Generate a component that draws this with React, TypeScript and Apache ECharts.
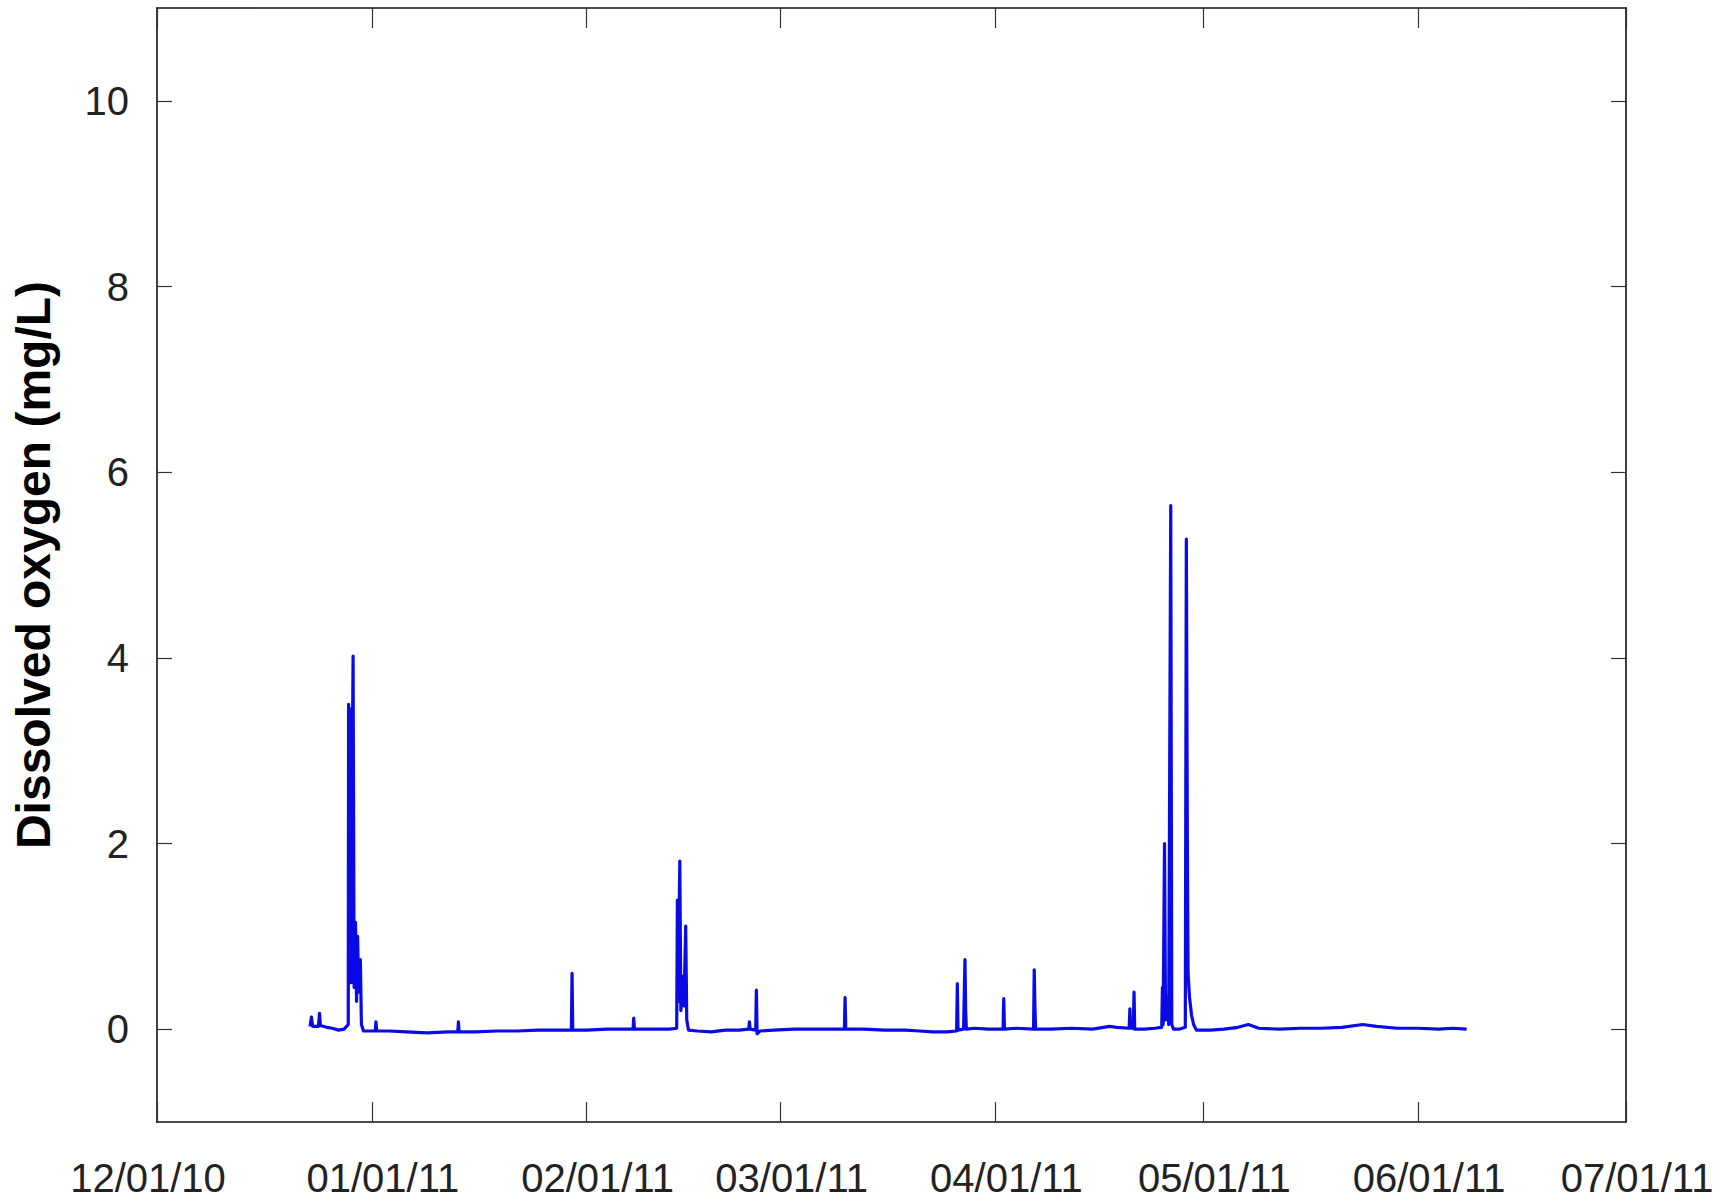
import React, { useEffect, useRef } from "react";
import * as echarts from "echarts";

// Sample times (local time) and dissolved oxygen readings (mg/L)
const sampleTimes: string[] = [
  "2010-12-23 02:00", "2010-12-23 07:00", "2010-12-23 11:00",
  "2010-12-24 07:00", "2010-12-24 11:00", "2010-12-24 14:00",
  "2010-12-25 12:00", "2010-12-26 07:00", "2010-12-27 05:00", "2010-12-28 00:00",
  "2010-12-28 14:24", "2010-12-28 15:36", "2010-12-28 18:00", "2010-12-28 20:24",
  "2010-12-29 00:00", "2010-12-29 03:36", "2010-12-29 07:12", "2010-12-29 10:48",
  "2010-12-29 15:36", "2010-12-29 19:12", "2010-12-29 22:48", "2010-12-30 02:24",
  "2010-12-30 08:24", "2010-12-30 12:00", "2010-12-30 19:12",
  "2010-12-31 12:00", "2011-01-01 12:00", "2011-01-01 14:24", "2011-01-01 17:00",
  "2011-01-03 12:00", "2011-01-06 00:00", "2011-01-09 00:00", "2011-01-12 00:00",
  "2011-01-13 09:36", "2011-01-13 12:00", "2011-01-13 14:24",
  "2011-01-16 00:00", "2011-01-19 00:00", "2011-01-22 00:00", "2011-01-25 00:00",
  "2011-01-28 00:00", "2011-01-29 19:12", "2011-01-29 21:36", "2011-01-30 00:00",
  "2011-02-01 00:00", "2011-02-04 00:00", "2011-02-07 16:48", "2011-02-07 19:12",
  "2011-02-07 21:36", "2011-02-10 00:00", "2011-02-13 00:00",
  "2011-02-14 00:00", "2011-02-14 02:24", "2011-02-14 04:48", "2011-02-14 10:48",
  "2011-02-14 14:24", "2011-02-14 21:36", "2011-02-15 01:12", "2011-02-15 07:12",
  "2011-02-15 10:48", "2011-02-15 16:48",
  "2011-02-17 00:00", "2011-02-19 00:00", "2011-02-21 00:00", "2011-02-23 00:00",
  "2011-02-24 09:36", "2011-02-24 12:00", "2011-02-24 14:24",
  "2011-02-25 09:36", "2011-02-25 12:00", "2011-02-25 14:24", "2011-02-26 00:00",
  "2011-02-28 00:00", "2011-03-03 00:00", "2011-03-06 00:00", "2011-03-09 00:00",
  "2011-03-10 04:48", "2011-03-10 07:12", "2011-03-10 09:36",
  "2011-03-13 00:00", "2011-03-16 00:00", "2011-03-19 00:00", "2011-03-21 00:00",
  "2011-03-23 00:00", "2011-03-25 00:00",
  "2011-03-26 09:36", "2011-03-26 12:00", "2011-03-26 14:24",
  "2011-03-27 09:36", "2011-03-27 14:24", "2011-03-27 16:48", "2011-03-27 19:12",
  "2011-03-29 00:00", "2011-03-31 00:00",
  "2011-04-02 02:24", "2011-04-02 04:48", "2011-04-02 07:12", "2011-04-04 00:00",
  "2011-04-06 12:00", "2011-04-06 14:24", "2011-04-06 16:48", "2011-04-06 19:12",
  "2011-04-09 00:00", "2011-04-12 00:00", "2011-04-15 00:00",
  "2011-04-17 12:00", "2011-04-18 12:00",
  "2011-04-20 07:12", "2011-04-20 09:36", "2011-04-20 12:00",
  "2011-04-20 21:36", "2011-04-21 00:00", "2011-04-21 02:24",
  "2011-04-22 12:00", "2011-04-24 00:00",
  "2011-04-25 00:00", "2011-04-25 02:24", "2011-04-25 04:48", "2011-04-25 09:36",
  "2011-04-25 13:12", "2011-04-25 19:12", "2011-04-26 00:00", "2011-04-26 07:12",
  "2011-04-26 10:48", "2011-04-26 16:48", "2011-04-27 12:00",
  "2011-04-28 09:36", "2011-04-28 13:12", "2011-04-28 16:48", "2011-04-28 19:12",
  "2011-04-29 00:00", "2011-04-29 07:12", "2011-04-29 14:24", "2011-04-30 00:00",
  "2011-05-02 00:00", "2011-05-04 00:00", "2011-05-06 00:00", "2011-05-07 12:00",
  "2011-05-09 00:00", "2011-05-12 00:00", "2011-05-15 00:00", "2011-05-18 00:00",
  "2011-05-21 00:00", "2011-05-24 00:00", "2011-05-26 00:00", "2011-05-29 00:00",
  "2011-06-01 00:00", "2011-06-04 00:00", "2011-06-06 00:00", "2011-06-08 00:00",
];

const dissolvedOxygen: number[] = [
  0.03, 0.13, 0.03,
  0.03, 0.17, 0.04,
  0.02, 0.01, -0.01, 0.0,
  0.05, 3.5, 0.6, 3.45,
  0.5, 2.6, 4.02, 0.45,
  1.15, 0.3, 1.0, 0.4,
  0.75, 0.05, -0.02,
  -0.02, -0.02, 0.08, -0.02,
  -0.02, -0.03, -0.04, -0.03,
  -0.03, 0.08, -0.03,
  -0.03, -0.02, -0.02, -0.01,
  -0.01, -0.01, 0.6, -0.01,
  -0.01, 0.0, 0.0, 0.12,
  0.0, 0.0, 0.0,
  0.01, 1.39, 0.3, 1.81,
  0.2, 0.57, 0.25, 1.11,
  0.1, -0.01,
  -0.02, -0.03, -0.01, -0.01,
  0.0, 0.08, 0.0,
  -0.01, 0.42, -0.05, -0.02,
  -0.01, 0.0, 0.0, 0.0,
  0.0, 0.34, 0.0,
  0.0, -0.01, -0.01, -0.02,
  -0.03, -0.03,
  -0.02, 0.49, -0.01,
  0.0, 0.75, 0.22, 0.0,
  0.01, 0.0,
  0.0, 0.33, 0.0, 0.01,
  0.0, 0.64, 0.24, 0.0,
  0.0, 0.01, 0.0,
  0.03, 0.02,
  0.01, 0.22, 0.01,
  0.01, 0.4, 0.0,
  0.0, 0.01,
  0.02, 0.45, 0.05, 2.0,
  0.1, 0.35, 0.05, 5.64,
  0.05, 0.0, 0.0,
  0.02, 5.28, 1.97, 0.6,
  0.35, 0.15, 0.05, -0.01,
  -0.01, 0.0, 0.02, 0.05,
  0.01, 0.0, 0.01, 0.01,
  0.02, 0.05, 0.03, 0.01,
  0.01, 0.0, 0.01, 0.0,
];

const monthTicks: string[] = [
  "2010-12-01", "2011-01-01", "2011-02-01", "2011-03-01",
  "2011-04-01", "2011-05-01", "2011-06-01", "2011-07-01",
];

const yTicks: number[] = [0, 2, 4, 6, 8, 10];
const yMin = -1;
const yMax = 11;
const yName = "Dissolved oxygen (mg/L)";

const toTs = (s: string) =>
  new Date(s.length <= 10 ? s + "T00:00:00" : s.replace(" ", "T") + ":00").getTime();

const fmtDate = (v: number) => {
  const d = new Date(v);
  const mm = String(d.getMonth() + 1).padStart(2, "0");
  const dd = String(d.getDate()).padStart(2, "0");
  const yy = String(d.getFullYear() % 100).padStart(2, "0");
  return `${mm}/${dd}/${yy}`;
};

export default function App() {
  const ref = useRef<HTMLDivElement>(null);

  useEffect(() => {
    if (!ref.current) return;
    const chart = echarts.init(ref.current, undefined, { renderer: "svg" });
    const tickTs = monthTicks.map(toTs);
    const seriesData = sampleTimes.map((t, i) => [toTs(t), dissolvedOxygen[i]]);
    const font = "Arial, 'Liberation Sans', Helvetica, sans-serif";
    const axisLineStyle = { color: "#111", width: 1.6 };
    const tickStyle = { color: "#333", width: 1.2 };
    const labelBase = { fontSize: 40, fontFamily: font, color: "#222" };

    chart.setOption({
      animation: false,
      backgroundColor: "#ffffff",
      grid: {
        left: 157,
        right: 93,
        top: 8,
        bottom: 78,
        containLabel: false,
        outerBoundsMode: "none",
      },
      xAxis: [
        {
          type: "value",
          position: "bottom",
          scale: true,
          min: tickTs[0],
          max: tickTs[tickTs.length - 1],
          axisLine: { show: true, onZero: false, lineStyle: axisLineStyle },
          axisTick: { show: true, inside: true, length: 20, lineStyle: tickStyle, customValues: tickTs },
          axisLabel: {
            show: true,
            customValues: tickTs,
            formatter: (v: number) =>
              v === tickTs[0] ? `{first|${fmtDate(v)}}` : `{rest|${fmtDate(v)}}`,
            rich: {
              first: { ...labelBase, padding: [0, 18, 0, 0] },
              rest: { ...labelBase, padding: [0, 0, 0, 22] },
            },
            ...labelBase,
            margin: 36,
            showMinLabel: true,
            showMaxLabel: true,
            hideOverlap: false,
          },
          splitLine: { show: false },
        },
        {
          type: "value",
          position: "top",
          scale: true,
          min: tickTs[0],
          max: tickTs[tickTs.length - 1],
          axisLine: { show: true, onZero: false, lineStyle: axisLineStyle },
          axisTick: { show: true, inside: true, length: 20, lineStyle: tickStyle, customValues: tickTs },
          axisLabel: { show: false },
          splitLine: { show: false },
        },
      ],
      yAxis: [
        {
          type: "value",
          position: "left",
          min: yMin,
          max: yMax,
          axisLine: { show: true, onZero: false, lineStyle: axisLineStyle },
          axisTick: { show: true, inside: true, length: 15, lineStyle: tickStyle, customValues: yTicks },
          axisLabel: {
            customValues: yTicks,
            formatter: (v: number) => (yTicks.includes(v) ? String(v) : ""),
            ...labelBase,
            margin: 28,
          },
          splitLine: { show: false },
          name: yName,
          nameLocation: "middle",
          nameGap: 100,
          nameTextStyle: {
            fontSize: 48,
            fontWeight: "bold",
            fontFamily: font,
            color: "#000",
          },
        },
        {
          type: "value",
          position: "right",
          min: yMin,
          max: yMax,
          axisLine: { show: true, onZero: false, lineStyle: axisLineStyle },
          axisTick: { show: true, inside: true, length: 15, lineStyle: tickStyle, customValues: yTicks },
          axisLabel: { show: false },
          splitLine: { show: false },
        },
      ],
      series: [
        {
          type: "line",
          name: "Dissolved oxygen",
          xAxisIndex: 0,
          yAxisIndex: 0,
          data: seriesData,
          showSymbol: false,
          symbol: "none",
          lineStyle: { color: "#0a0ae6", width: 3.2, join: "round" },
          itemStyle: { color: "#0a0ae6" },
        },
      ],
    });

    return () => chart.dispose();
  }, []);

  return (
    <div
      ref={ref}
      style={{ position: "fixed", left: 0, top: 0, width: 1719, height: 1200, background: "#fff" }}
    />
  );
}
